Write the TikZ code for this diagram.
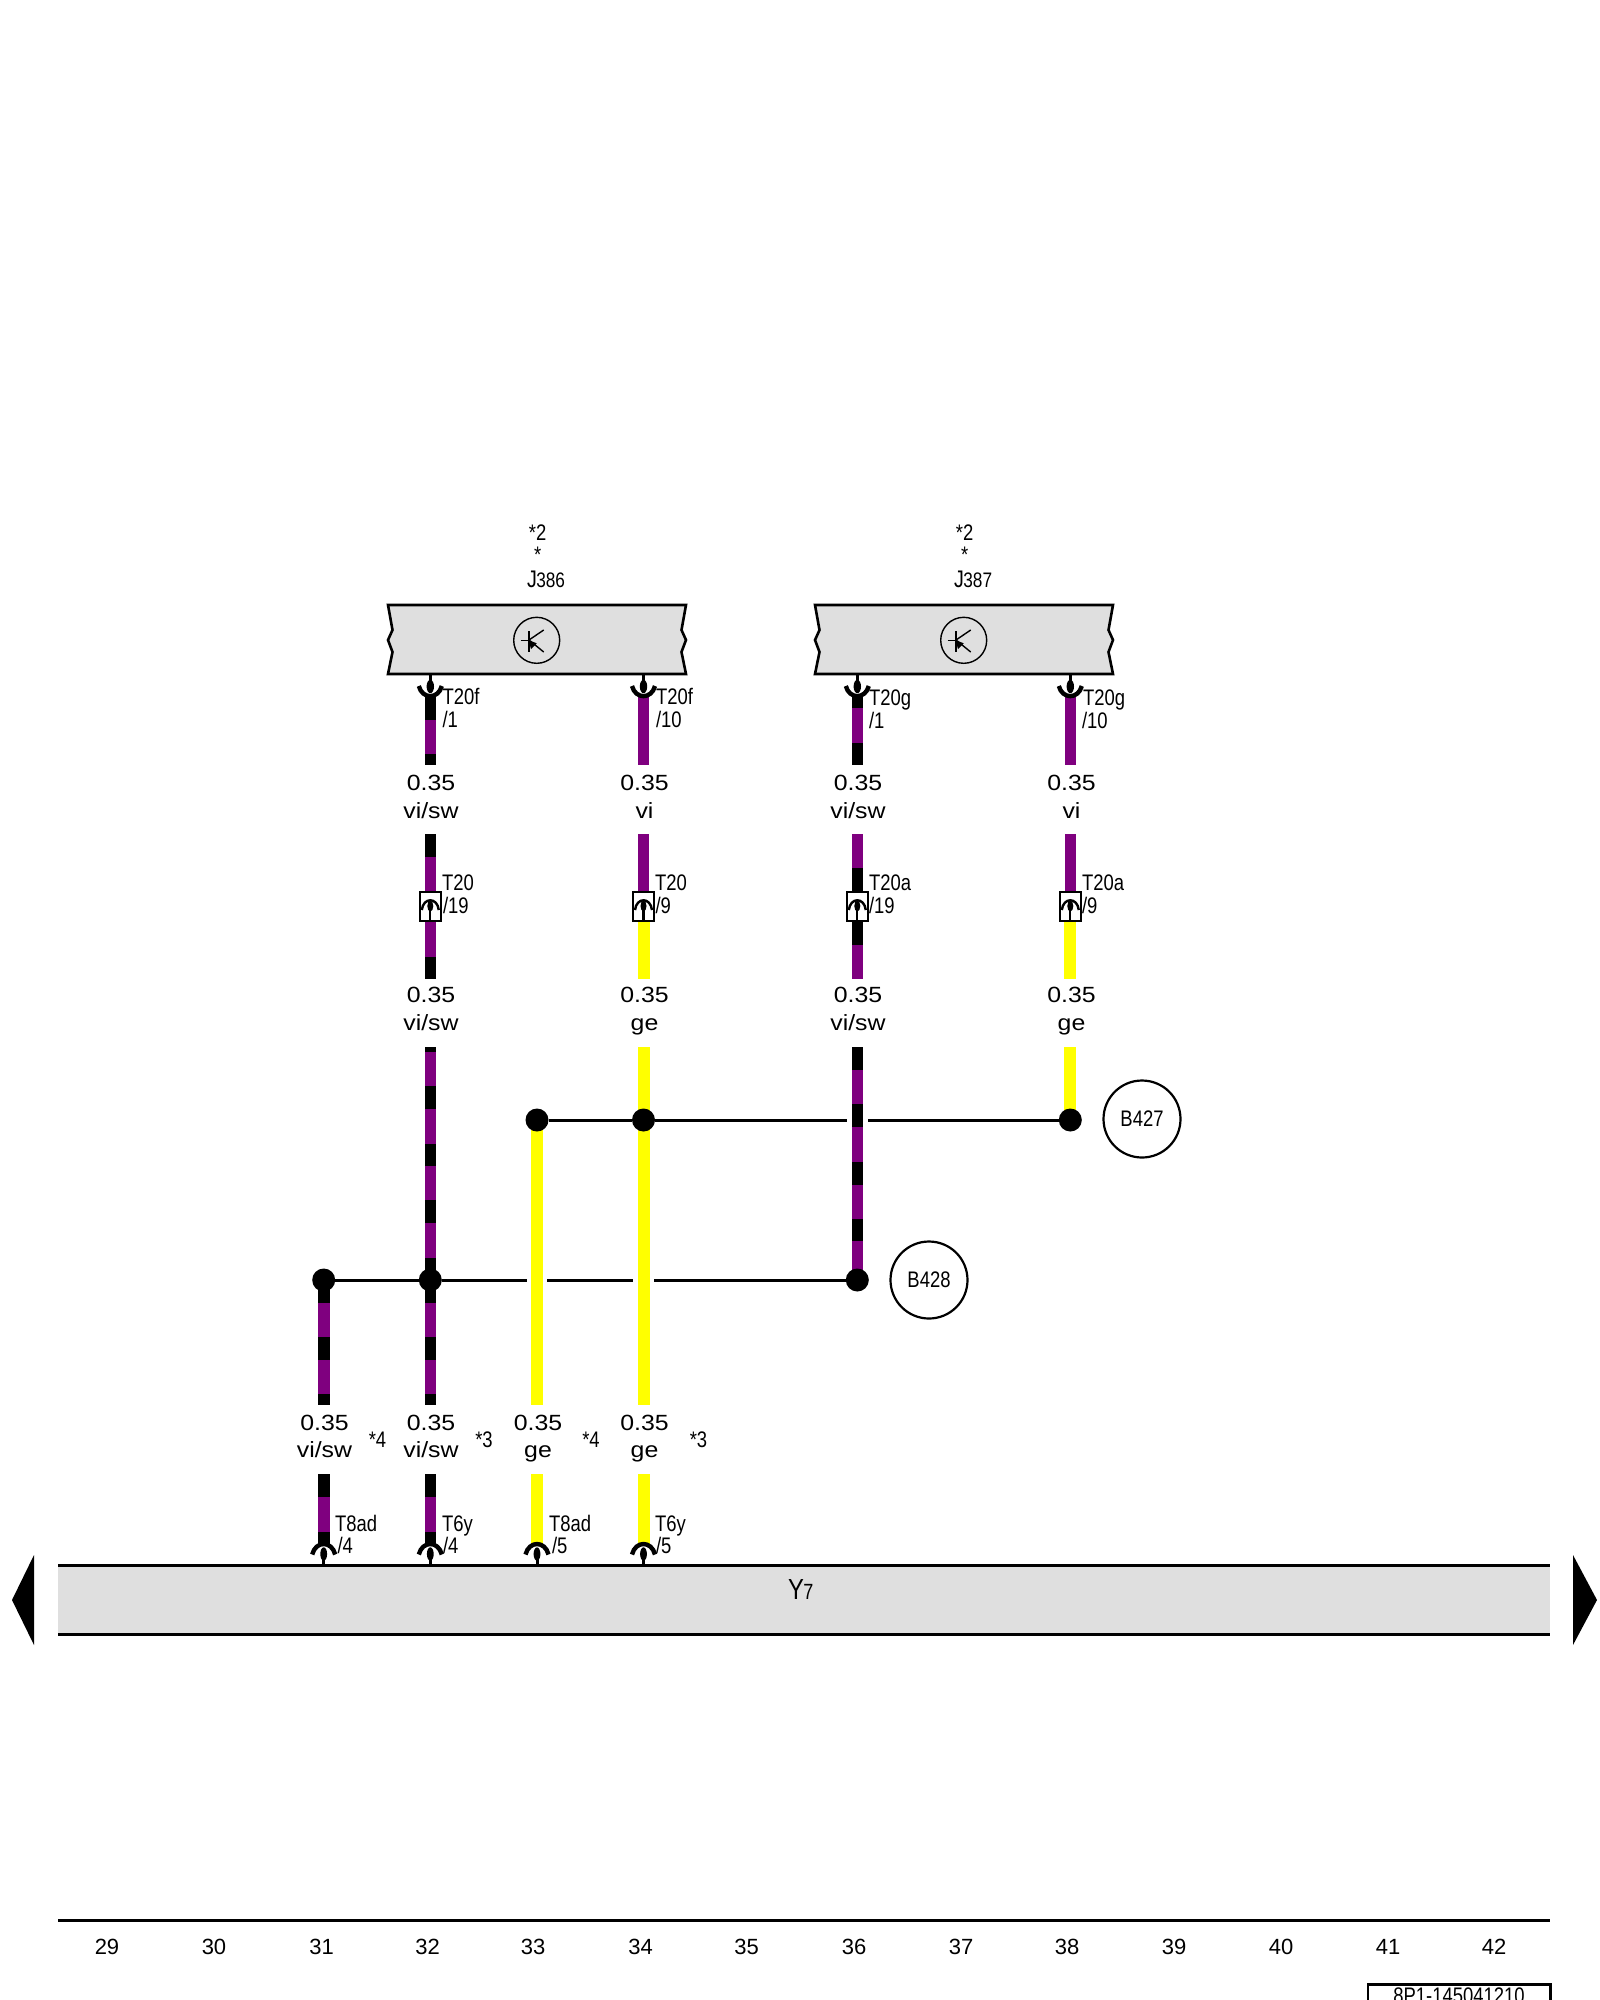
\documentclass[tikz,border=0pt]{standalone}
\usepackage{fontspec}
\setmainfont{Liberation Sans}
\newfontfamily\widefnt[FakeStretch=1.13]{Liberation Sans}
\newfontfamily\narrowfnt[FakeStretch=0.82]{Liberation Sans}
\definecolor{vio}{HTML}{7F007F}
\definecolor{yel}{HTML}{FFFF00}
\definecolor{panel}{HTML}{DFDFDF}
\tikzset{
  wire/.style={line width=11.6pt},
  ywire/.style={line width=12pt},
  hline/.style={line width=3pt,black},
  bar/.style={line width=3pt,black},
  bullet/.style={circle,fill=black,inner sep=0pt,minimum size=23pt},
  txt/.style={inner sep=0pt,outer sep=0pt,black},
  gauge/.style={txt,anchor=base,font=\widefnt\fontsize{22}{22}\selectfont},
  small/.style={txt,anchor=base west,font=\narrowfnt\fontsize{22.5}{22.5}\selectfont},
  star/.style={txt,anchor=base,font=\narrowfnt\fontsize{22.5}{22.5}\selectfont},
  tick/.style={txt,anchor=base,font=\fontsize{22}{22}\selectfont},
  ground/.style={circle,draw=black,line width=2.2pt,inner sep=0pt,minimum size=77pt,font=\narrowfnt\fontsize{22.5}{22.5}\selectfont},
}
\newcommand\stripes[2]{\foreach \ya/\yb/\cc in {#2}{\draw[wire,draw=\cc] (#1,\ya) -- (#1,\yb);}}
\newcommand\lbl[5]{% name, x, baseline y, gauge, colour
  \node[gauge] (#1g) at (#2,#3) {#4};
  \node[gauge] (#1c) at (#2,#3+27.7) {#5};}
\newcommand\topconn[1]{\begin{scope}[shift={(#1,0)}]
  \draw[line width=3pt] (0,674) -- (0,682);
  \fill (0,686.5) ellipse [x radius=3.7,y radius=6.7];
  \draw[line width=4.4pt] (-11.5,686) .. controls (-8,699.5) and (8,699.5) .. (11.5,686);
\end{scope}}
\newcommand\botconn[1]{\begin{scope}[shift={(#1,0)}]
  \draw[line width=3pt] (0,1558) -- (0,1565);
  \fill (0,1554) ellipse [x radius=3.4,y radius=6.7];
  \draw[line width=4.4pt] (-11.5,1554.5) .. controls (-8,1540.5) and (8,1540.5) .. (11.5,1554.5);
\end{scope}}
\newcommand\midconn[1]{\begin{scope}[shift={(#1,0)}]
  \draw[line width=2.4pt,fill=white] (-10.5,892) rectangle (10.5,921);
  \draw[line width=2.2pt] (0,906) -- (0,921);
  \fill (0,906) ellipse [x radius=3,y radius=5.5];
  \draw[line width=2.4pt] (-8.5,910) .. controls (-7,897) and (7,897) .. (8.5,910);
\end{scope}}
\newcommand\module[2]{\begin{scope}[shift={(#1,0)}]
  \draw[line width=2.6pt,fill=panel,line join=miter] (388,605) -- (686,605) -- (681.5,630) -- (686,640) -- (681.5,652) -- (686,674) -- (388,674) -- (392.5,652) -- (388,640) -- (392.5,630) -- cycle;
  \draw[line width=1.4pt] (536.7,640.3) circle [radius=23];
  \draw[line width=1.4pt] (520.7,640.3) -- (529,640.3);
  \draw[line width=1.4pt] (529,631) -- (529,651.7);
  \draw[line width=1.4pt] (529,640) -- (543.7,630);
  \draw[line width=1.4pt] (529,640) -- (543.7,652);
  \fill (528.3,640) -- (536.7,643.3) -- (531,649) -- cycle;
  \node[star] (#2a) at (537.7,540) {*2};
  \node[star] (#2b) at (537.7,562) {*};
\end{scope}}
\begin{document}
\begin{tikzpicture}[x=1pt,y=-1pt]
\useasboundingbox (0,0) rectangle (1600,2000);
\clip (0,0) rectangle (1600,2000);
\fill[white] (0,0) rectangle (1600,2000);

% modules
\module{0}{ma}
\module{427}{mb}
\node[txt,anchor=base west] (j386) at (527,587) {\narrowfnt\fontsize{24}{24}\selectfont J\kern-0.5pt\fontsize{21}{21}\selectfont 386};
\node[txt,anchor=base west] (j387) at (954,587) {\narrowfnt\fontsize{24}{24}\selectfont J\kern-0.5pt\fontsize{21}{21}\selectfont 387};

% upper wires
\stripes{430.3}{697/720/black,720/754/vio,754/765/black}
\stripes{643.5}{697/765/vio}
\stripes{857.3}{697/708/black,708/743/vio,743/765/black}
\stripes{1070.3}{697/765/vio}
% middle wires
\stripes{430.3}{834/857/black,857/892/vio,921/957/vio,957/979/black}
\stripes{643.5}{834/892/vio}
\draw[ywire,draw=yel] (643.5,921) -- (643.5,979);
\stripes{857.3}{834/868/vio,868/892/black,921/945/black,945/979/vio}
\stripes{1070.3}{834/892/vio}
\draw[ywire,draw=yel] (1070.3,921) -- (1070.3,979);
% long wires
\stripes{430.3}{1047/1052/black,1052/1086/vio,1086/1109/black,1109/1144/vio,1144/1166/black,1166/1200/vio,1200/1223/black,1223/1258/vio,1258/1303/black,1303/1337/vio,1337/1360/black,1360/1394/vio,1394/1405/black}
\stripes{323.7}{1280/1303/black,1303/1337/vio,1337/1360/black,1360/1394/vio,1394/1405/black}
\stripes{857.3}{1047/1070/black,1070/1104/vio,1104/1127/black,1127/1162/vio,1162/1185/black,1185/1219/vio,1219/1241/black,1241/1280/vio}
\draw[ywire,draw=yel] (537,1120) -- (537,1405);
\draw[ywire,draw=yel] (643.5,1047) -- (643.5,1405);
\draw[ywire,draw=yel] (1070.3,1047) -- (1070.3,1120);
% bottom stubs
\stripes{323.7}{1474/1497/black,1497/1532/vio,1532/1546/black}
\stripes{430.3}{1474/1497/black,1497/1532/vio,1532/1546/black}
\draw[ywire,draw=yel] (537,1474) -- (537,1546);
\draw[ywire,draw=yel] (643.5,1474) -- (643.5,1546);

% splice points and horizontal lines
\node[bullet] (s1) at (537,1120) {};
\node[bullet] (s2) at (643.5,1120) {};
\node[bullet] (s3) at (1070.3,1120) {};
\node[bullet] (s4) at (323.7,1280) {};
\node[bullet] (s5) at (430.3,1280) {};
\node[bullet] (s6) at (857.3,1280) {};
\coordinate (g1a) at (847,1120);
\coordinate (g1b) at (868,1120);
\coordinate (g2a) at (527,1280);
\coordinate (g2b) at (547,1280);
\coordinate (g3a) at (633,1280);
\coordinate (g3b) at (654,1280);
\draw[hline] (s1) -- (s2);
\draw[hline] (s2) -- (g1a);
\draw[hline] (g1b) -- (s3);
\draw[hline] (s4) -- (s5);
\draw[hline] (s5) -- (g2a);
\draw[hline] (g2b) -- (g3a);
\draw[hline] (g3b) -- (s6);

\node[ground] (b427) at (1142,1119) {B427};
\node[ground] (b428) at (929,1280) {B428};

% connectors
\topconn{430.3}\topconn{643.5}\topconn{857.3}\topconn{1070.3}
\midconn{430.3}\midconn{643.5}\midconn{857.3}\midconn{1070.3}
\botconn{323.7}\botconn{430.3}\botconn{537}\botconn{643.5}

% gauge and colour labels
\lbl{a}{431}{790.5}{0.35}{vi/sw}
\lbl{b}{644.5}{790.5}{0.35}{vi}
\lbl{c}{858}{790.5}{0.35}{vi/sw}
\lbl{d}{1071.5}{790.5}{0.35}{vi}
\lbl{e}{431}{1002.5}{0.35}{vi/sw}
\lbl{f}{644.5}{1002.5}{0.35}{ge}
\lbl{h}{858}{1002.5}{0.35}{vi/sw}
\lbl{i}{1071.5}{1002.5}{0.35}{ge}
\lbl{k}{324.5}{1430}{0.35}{vi/sw}
\lbl{l}{431}{1430}{0.35}{vi/sw}
\lbl{m}{538}{1430}{0.35}{ge}
\lbl{n}{644.5}{1430}{0.35}{ge}

% connector labels
\node[small] (p1) at (442.5,704) {T20f};
\node[small] (p2) at (442.5,727.5) {/1};
\node[small] (p3) at (656,704) {T20f};
\node[small] (p4) at (656,727.5) {/10};
\node[small] (p5) at (869,705) {T20g};
\node[small] (p6) at (869,728) {/1};
\node[small] (p7) at (1083,705) {T20g};
\node[small] (p8) at (1082,728) {/10};
\node[small] (q1) at (442,890) {T20};
\node[small] (q2) at (443,913) {/19};
\node[small] (q3) at (655,890) {T20};
\node[small] (q4) at (655.5,913) {/9};
\node[small] (q5) at (869,890) {T20a};
\node[small] (q6) at (869,913) {/19};
\node[small] (q7) at (1082,890) {T20a};
\node[small] (q8) at (1082,913) {/9};
\node[small] (r1) at (335,1531) {T8ad};
\node[small] (r2) at (337.5,1553) {/4};
\node[small] (r3) at (442,1531) {T6y};
\node[small] (r4) at (443,1553) {/4};
\node[small] (r5) at (549,1531) {T8ad};
\node[small] (r6) at (552,1553) {/5};
\node[small] (r7) at (655,1531) {T6y};
\node[small] (r8) at (656,1553) {/5};
\node[star] (u1) at (377.5,1447) {*4};
\node[star] (u2) at (484,1447) {*3};
\node[star] (u3) at (591,1447) {*4};
\node[star] (u4) at (698.5,1447) {*3};

% bottom bar
\fill[panel] (58,1565) rectangle (1550,1634);
\draw[bar] (58,1565) -- (1550,1565);
\draw[bar] (58,1634) -- (1550,1634);
\fill (34,1555) -- (12,1600) -- (34,1645) -- cycle;
\fill (1573,1555) -- (1597,1600) -- (1573,1645) -- cycle;
\node[txt,anchor=base west] (y7) at (788,1599) {\narrowfnt\fontsize{29}{29}\selectfont Y\kern-0.5pt\fontsize{22}{22}\selectfont 7};

% grid ruler
\draw[bar] (58,1920) -- (1550,1920);
\foreach \nn/\xx in {29/107,30/214,31/321.5,32/427.5,33/533,34/640.5,35/746.5,36/854,37/961,38/1067,39/1174,40/1281,41/1388,42/1494}
  {\node[tick] (n\nn) at (\xx,1954) {\nn};}
\draw[line width=2.4pt] (1368,1984.5) rectangle (1550.5,2030);
\node[txt,anchor=base,font=\narrowfnt\fontsize{22.5}{22.5}\selectfont] (code) at (1459,2003) {8P1-145041210};
\end{tikzpicture}
\end{document}
